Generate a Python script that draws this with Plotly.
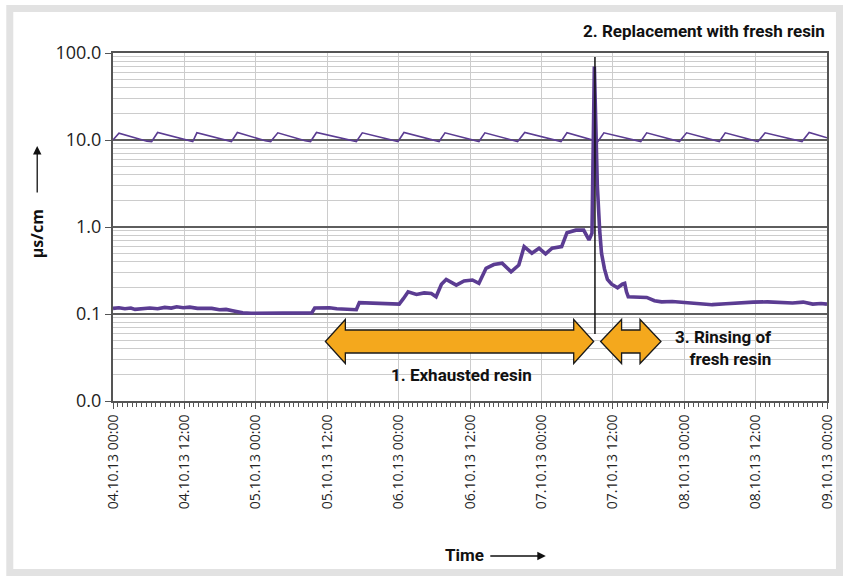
import pandas as pd
import plotly.graph_objects as go

# Start of the logging period; all times below are hours after this moment
T0 = pd.Timestamp("2013-10-04 00:00")

# Conductivity of the demineralised water (µS/cm), thick trace
cond_hours = [0.0, 1.0, 2.0, 3.0, 3.7, 5.0, 6.2, 7.5, 8.7, 9.8, 10.7, 11.8,
              12.9, 14.2, 15.4, 16.6, 17.9, 19.0, 20.1, 21.0, 21.8, 23.2, 24.6,
              26.3, 28.0, 29.7, 31.4, 33.0, 33.4, 33.9, 35.0, 36.4, 37.6, 38.9,
              40.9, 41.4, 43.0, 44.8, 46.4, 48.1, 48.8, 49.6, 51.0, 52.3, 53.5,
              54.3, 55.2, 56.0, 57.7, 59.0, 60.4, 61.5, 62.7, 64.0, 65.4, 66.9,
              68.2, 69.1, 70.4, 71.6, 72.7, 73.8, 75.4, 76.3, 77.8, 79.1, 80.0,
              80.5, 80.9, 81.1, 81.4, 81.8, 82.1, 82.6, 83.1, 83.8, 84.8, 85.6,
              86.0, 86.3, 86.6, 87.5, 89.7, 91.0, 92.2, 94.0, 96.3, 98.5, 100.7,
              103.0, 105.2, 107.6, 110.0, 112.0, 114.2, 116.0, 117.6, 119.0,
              120.0]
cond_values = [0.116, 0.118, 0.115, 0.117, 0.113, 0.115, 0.117, 0.115, 0.119,
               0.117, 0.121, 0.118, 0.120, 0.116, 0.115, 0.116, 0.112, 0.113,
               0.109, 0.106, 0.103, 0.102, 0.102, 0.103, 0.102, 0.101, 0.101,
               0.102, 0.103, 0.117, 0.118, 0.118, 0.115, 0.114, 0.112, 0.135,
               0.134, 0.133, 0.134, 0.130, 0.150, 0.180, 0.168, 0.175, 0.172,
               0.158, 0.220, 0.250, 0.215, 0.240, 0.246, 0.225, 0.335, 0.370,
               0.383, 0.306, 0.365, 0.595, 0.500, 0.570, 0.490, 0.570, 0.595,
               0.860, 0.920, 0.920, 0.710, 0.850, 70.0, 20.0, 3.0, 0.90, 0.50,
               0.33, 0.25, 0.22, 0.20, 0.22, 0.225, 0.18, 0.158, 0.157, 0.155,
               0.142, 0.138, 0.139, 0.135, 0.132, 0.128, 0.131, 0.135, 0.137,
               0.138, 0.136, 0.134, 0.137, 0.130, 0.132, 0.130]

# Second recorded channel, periodic sawtooth near 10 (thin trace)
saw_hours = [0.0, 1.0, 5.7, 6.5, 7.5, 12.6, 13.4, 14.1, 19.1, 19.9, 20.9,
             25.6, 26.5, 27.7, 32.3, 33.2, 34.2, 40.1, 40.9, 41.9, 47.1, 47.9,
             48.9, 54.0, 54.8, 55.8, 60.7, 61.5, 62.5, 67.2, 68.0, 69.2, 74.4,
             75.3, 76.3, 80.6, 81.5, 82.5, 87.8, 88.7, 89.7, 94.4, 95.2, 96.4,
             101.1, 101.9, 102.9, 107.6, 108.4, 109.6, 115.0, 115.8, 117.0, 120.0]
saw_values = [10.0, 12.0, 9.7, 9.6, 12.2, 9.8, 9.6, 12.1, 9.8, 9.6, 12.2,
              9.8, 9.6, 12.1, 9.8, 9.6, 12.2, 9.8, 9.6, 12.1, 9.8, 9.6, 12.2,
              9.8, 9.6, 12.1, 9.8, 9.6, 12.1, 9.8, 9.6, 12.2, 9.8, 9.6, 12.1,
              9.9, 9.6, 12.1, 9.8, 9.6, 12.1, 9.8, 9.6, 12.1, 9.8, 9.6, 12.1,
              9.8, 9.6, 12.1, 9.8, 9.6, 12.2, 10.6]

# Moment the exhausted cartridge was swapped (hours)
replacement_hour = 81.0

# Y axis decades and their printed labels
y_ticks = [0.01, 0.1, 1, 10, 100]
y_labels = ["0.0", "0.1", "1.0", "10.0", "100.0"]

PURPLE = "#5b3c92"
ORANGE = "#f4a81d"
GRID = "#cccccc"
MAJOR = "#5e5e5e"


def to_time(hours):
    return [T0 + pd.Timedelta(hours=h) for h in hours]


# Plot area in page pixels: left 113, right 829, top 53, bottom 401
def px(x):
    return (x - 113) / 716.0


def py(y):
    return (401 - y) / 348.0


def double_arrow(x_left, x_right, head, y_mid, shaft_half, head_half):
    pts = [
        (x_left, y_mid),
        (x_left + head, y_mid - head_half),
        (x_left + head, y_mid - shaft_half),
        (x_right - head, y_mid - shaft_half),
        (x_right - head, y_mid - head_half),
        (x_right, y_mid),
        (x_right - head, y_mid + head_half),
        (x_right - head, y_mid + shaft_half),
        (x_left + head, y_mid + shaft_half),
        (x_left + head, y_mid + head_half),
    ]
    path = "M " + " L ".join(f"{px(a):.5f},{py(b):.5f}" for a, b in pts) + " Z"
    return dict(type="path", xref="paper", yref="paper", path=path,
                fillcolor=ORANGE, line=dict(color="#1a1a1a", width=1.3),
                layer="above")


fig = go.Figure()

fig.add_trace(go.Scatter(
    x=to_time(saw_hours), y=saw_values, mode="lines",
    line=dict(color=PURPLE, width=1.6), hoverinfo="skip", showlegend=False))

fig.add_trace(go.Scatter(
    x=to_time(cond_hours), y=cond_values, mode="lines",
    line=dict(color=PURPLE, width=3.6), showlegend=False))

shapes = [
    # light grey page frame
    dict(type="rect", xref="paper", yref="paper",
         x0=px(9.5), x1=px(841.5), y0=py(572.5), y1=py(8.5),
         line=dict(color="#e2e2e2", width=7), fillcolor="rgba(0,0,0,0)",
         layer="below"),
    # cartridge replacement marker
    dict(type="line", xref="x", yref="paper",
         x0=T0 + pd.Timedelta(hours=replacement_hour),
         x1=T0 + pd.Timedelta(hours=replacement_hour),
         y0=py(334), y1=py(57), line=dict(color="#111111", width=1.5),
         layer="above"),
    double_arrow(326, 595, 20, 341.5, 11.5, 22),
    double_arrow(602, 662.5, 21, 341.5, 11.5, 22),
]

label_font = dict(family="Liberation Sans Narrow, Arial Narrow, Roboto", size=17,
                  color="#111111")
annotations = [
    dict(text="<b>2. Replacement with fresh resin</b>", x=1.0, y=py(31),
         xref="paper", yref="paper", xanchor="right", yanchor="middle",
         showarrow=False, font=label_font),
    dict(text="<b>1. Exhausted resin</b>", x=px(462), y=py(375),
         xref="paper", yref="paper", xanchor="center", yanchor="middle",
         showarrow=False, font=label_font),
    dict(text="<b>3. Rinsing of<br>fresh resin</b>", x=px(776), y=py(348),
         xref="paper", yref="paper", xanchor="right", yanchor="middle",
         align="right", showarrow=False, font=label_font),
    dict(text="<b>µs/cm</b>", x=px(37), y=py(234), xref="paper", yref="paper",
         textangle=-90, showarrow=False, xanchor="center", yanchor="middle",
         font=dict(family="Open Sans", size=16, color="#111111")),
    dict(text="", x=px(37), y=py(146), xref="paper", yref="paper",
         ax=0, ay=48, showarrow=True, arrowhead=2, arrowsize=1.3,
         arrowwidth=1.3, arrowcolor="#111111"),
    dict(text="<b>Time</b>", x=px(465), y=py(555), xref="paper", yref="paper",
         showarrow=False, xanchor="center", yanchor="middle",
         font=dict(family="Liberation Sans Narrow, Arial Narrow, Roboto",
                   size=17, color="#111111")),
    dict(text="", x=px(547), y=py(556), xref="paper", yref="paper",
         ax=-57, ay=0, showarrow=True, arrowhead=2, arrowsize=1.3,
         arrowwidth=1.3, arrowcolor="#111111"),
]

fig.update_layout(
    width=848, height=579,
    margin=dict(l=113, r=19, t=53, b=178),
    paper_bgcolor="white", plot_bgcolor="white",
    shapes=shapes, annotations=annotations,
    font=dict(family="Open Sans", color="#222222"),
)

fig.update_xaxes(
    type="date",
    range=[T0, T0 + pd.Timedelta(hours=120)],
    dtick=12 * 3600 * 1000, tick0=T0,
    tickformat="%d.%m.%y %H:%M", tickangle=-90,
    tickfont=dict(family="Open Sans", size=14, color="#222222"),
    ticks="outside", ticklen=6, tickcolor="#555555", tickwidth=1,
    showgrid=True, gridcolor=GRID, gridwidth=1,
    showline=True, linecolor="#555555", linewidth=2, mirror=True,
    minor=dict(dtick=48 * 60 * 1000, ticks="outside", ticklen=4,
               tickcolor="#555555", showgrid=False),
    zeroline=False,
)

fig.update_yaxes(
    type="log", range=[-2, 2],
    tickvals=y_ticks, ticktext=y_labels,
    tickfont=dict(family="Open Sans", size=18, color="#222222"),
    ticks="outside", ticklen=6, tickcolor="#555555", tickwidth=1,
    showgrid=True, gridcolor=MAJOR, gridwidth=1.6,
    showline=True, linecolor="#555555", linewidth=2, mirror=True,
    minor=dict(dtick="D1", showgrid=True, gridcolor=GRID, gridwidth=1,
               ticks=""),
    zeroline=False,
)

fig.write_html("out.html")
